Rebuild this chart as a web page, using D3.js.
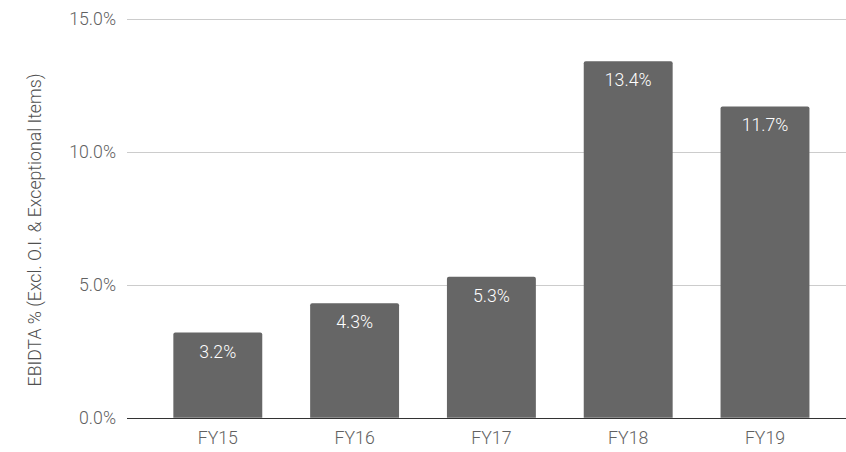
<!DOCTYPE html>
<html lang="en">
<head>
    <meta charset="UTF-8">
    <title>EBIDTA %</title>
    <script src="https://d3js.org/d3.v7.min.js"></script>
    <style>
        body {
            margin: 0;
            padding: 0;
            background: #fff;
            font-family: Roboto, Arial, sans-serif;
        }
        text {
            font-weight: 300;
        }
    </style>
</head>
<body>
    <div id="chart"></div>
    <script>
        // data
        const years = ['FY15', 'FY16', 'FY17', 'FY18', 'FY19'];
        const ebidta = [3.2, 4.3, 5.3, 13.4, 11.7];
        const yTicks = [0, 5, 10, 15];
        const yTitle = 'EBIDTA % (Excl. O.I. & Exceptional Items)';

        const W = 846, H = 452;
        const plotLeft = 127, plotRight = 846;
        const plotTop = 18.7, plotBottom = 417.7;
        const fs = 17.7;

        const svg = d3.select('#chart')
            .append('svg')
            .attr('width', W)
            .attr('height', H);

        const x = d3.scaleBand()
            .domain(years)
            .range([149.4, 833.4])
            .paddingInner(0.35)
            .paddingOuter(0.175);

        const y = d3.scaleLinear()
            .domain([0, 15])
            .range([plotBottom, plotTop]);

        // gridlines
        svg.append('g')
            .selectAll('line')
            .data(yTicks.filter(d => d > 0))
            .enter()
            .append('line')
            .attr('x1', plotLeft)
            .attr('x2', plotRight)
            .attr('y1', d => Math.round(y(d)) + 0.5)
            .attr('y2', d => Math.round(y(d)) + 0.5)
            .attr('stroke', '#cccccc')
            .attr('stroke-width', 1);

        // y tick labels
        svg.append('g')
            .selectAll('text')
            .data(yTicks)
            .enter()
            .append('text')
            .attr('x', 116)
            .attr('y', d => y(d))
            .attr('dy', '0.35em')
            .attr('text-anchor', 'end')
            .attr('font-size', fs)
            .attr('fill', '#616161')
            .text(d => d.toFixed(1) + '%');

        // bars with rounded top corners
        const r = 2;
        svg.append('g')
            .selectAll('path')
            .data(years.map((c, i) => ({ c, v: ebidta[i] })))
            .enter()
            .append('path')
            .attr('fill', '#666666')
            .attr('d', d => {
                const x0 = x(d.c), x1 = x0 + x.bandwidth();
                const yt = y(d.v), yb = y(0);
                return `M${x0},${yb}V${yt + r}Q${x0},${yt} ${x0 + r},${yt}H${x1 - r}Q${x1},${yt} ${x1},${yt + r}V${yb}Z`;
            });

        // value labels
        svg.append('g')
            .selectAll('text')
            .data(years.map((c, i) => ({ c, v: ebidta[i] })))
            .enter()
            .append('text')
            .attr('x', d => x(d.c) + x.bandwidth() / 2)
            .attr('y', d => y(d.v) + 25)
            .attr('text-anchor', 'middle')
            .attr('font-size', fs)
            .attr('fill', '#ffffff')
            .text(d => d.v.toFixed(1) + '%');

        // baseline
        svg.append('line')
            .attr('x1', plotLeft)
            .attr('x2', plotRight)
            .attr('y1', Math.round(y(0)) + 0.5)
            .attr('y2', Math.round(y(0)) + 0.5)
            .attr('stroke', '#333333')
            .attr('stroke-width', 1);

        // x axis labels
        const xAxis = svg.append('g')
            .attr('transform', `translate(0,${plotBottom})`)
            .call(d3.axisBottom(x).tickSize(0).tickPadding(12));
        xAxis.select('.domain').remove();
        xAxis.selectAll('text')
            .attr('font-family', 'Roboto, Arial, sans-serif')
            .attr('font-size', fs)
            .attr('fill', '#616161')
            .attr('dy', null)
            .attr('y', 26);

        // y axis title
        svg.append('text')
            .attr('transform', `translate(40.5,${230}) rotate(-90)`)
            .attr('text-anchor', 'middle')
            .attr('font-size', fs)
            .attr('fill', '#505050')
            .text(yTitle);
    </script>
</body>
</html>
